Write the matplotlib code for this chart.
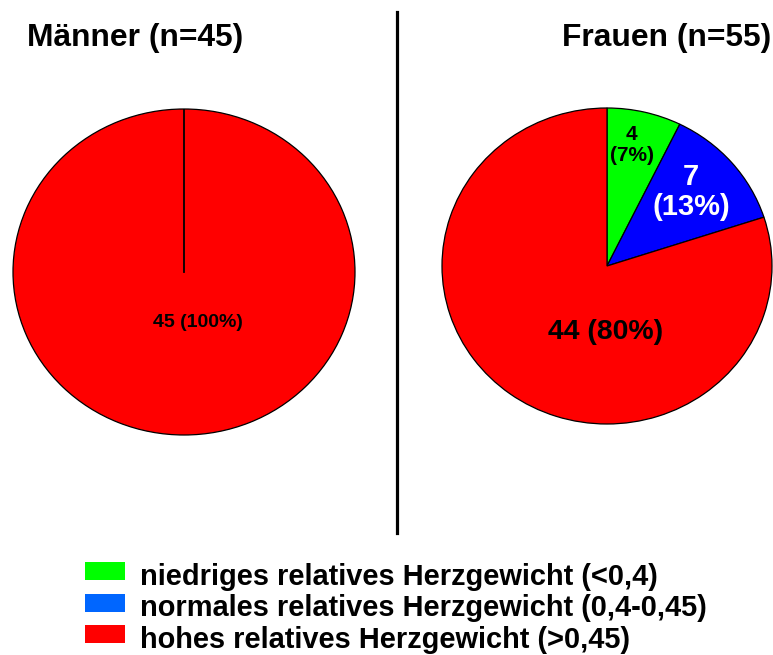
import matplotlib
matplotlib.use("Agg")
import matplotlib.pyplot as plt
import numpy as np
from matplotlib.patches import Rectangle
from matplotlib.lines import Line2D

plt.rcParams['font.family'] = ['Liberation Sans', 'DejaVu Sans']
plt.rcParams['font.weight'] = 'bold'

# ---- data ----
categories = ["niedriges relatives Herzgewicht (<0,4)",
              "normales relatives Herzgewicht (0,4-0,45)",
              "hohes relatives Herzgewicht (>0,45)"]
maenner_values = [0, 0, 45]
frauen_values = [4, 7, 44]
maenner_title = "Männer (n=45)"
frauen_title = "Frauen (n=55)"
maenner_labels = ["45 (100%)"]
frauen_labels = ["4\n(7%)", "7\n(13%)", "44 (80%)"]

# ---- style ----
pie_colors = ["#00FF00", "#0000FF", "#FF0000"]
legend_colors = ["#00FF00", "#0066FF", "#FF0000"]

W, H = 773, 655
fig = plt.figure(figsize=(W / 100, H / 100), dpi=100)


def px_axes(left, top, right, bottom):
    return fig.add_axes([left / W, 1 - bottom / H, (right - left) / W, (bottom - top) / H])


def draw_pie(ax, values, colors):
    cols = [c for v, c in zip(values, colors) if v > 0]
    vals = [v for v in values if v > 0]
    wedges, _ = ax.pie(vals, colors=cols, startangle=90, counterclock=False,
                       wedgeprops=dict(edgecolor="black", linewidth=0.9))
    ax.set_aspect('auto')
    ax.set_xlim(-1, 1)
    ax.set_ylim(-1, 1)
    return wedges


# left pie (Männer)
axL = px_axes(13, 109, 355, 435)
wL = draw_pie(axL, maenner_values, pie_colors)
th = np.deg2rad(wL[0].theta1)
axL.plot([0, np.cos(th)], [0, np.sin(th)], color="black", lw=1.3)
axL.text(0.08, -0.31, maenner_labels[0], ha="center", va="center",
         fontsize=14, fontweight="bold", color="black")

# right pie (Frauen)
axR = px_axes(442, 108, 772, 424)
wR = draw_pie(axR, frauen_values, pie_colors)
label_pos = [(0.15, 0.765), (0.51, 0.47), (-0.01, -0.415)]
label_size = [15, 21, 20.4]
label_color = ["black", "white", "black"]
label_ls = [1.15, 1.1, 1.0]
for lab, (x, y), fs, c, ls in zip(frauen_labels, label_pos, label_size, label_color, label_ls):
    axR.text(x, y, lab, ha="center", va="center", fontsize=fs,
             fontweight="bold", color=c, linespacing=ls)

# titles
fig.text(27 / W, 1 - 38 / H, maenner_title, ha="left", va="center",
         fontsize=22.9, fontweight="bold")
fig.text(771 / W, 1 - 38 / H, frauen_title, ha="right", va="center",
         fontsize=22.9, fontweight="bold")

# divider
fig.add_artist(Line2D([397 / W, 397 / W], [1 - 12 / H, 1 - 533 / H],
                      transform=fig.transFigure, color="black", lw=2.3))

# legend (drawn manually in pixel layout)
row_y = [574, 605.5, 637]
for cat, col, y in zip(categories, legend_colors, row_y):
    fig.add_artist(Rectangle((85 / W, 1 - (y + 6) / H), 40 / W, 18 / H,
                             transform=fig.transFigure, facecolor=col,
                             edgecolor="none"))
    fig.text(140 / W, 1 - y / H, cat, ha="left", va="center_baseline",
             fontsize=20.9, fontweight="bold")

fig.savefig("out.png", dpi=100)
